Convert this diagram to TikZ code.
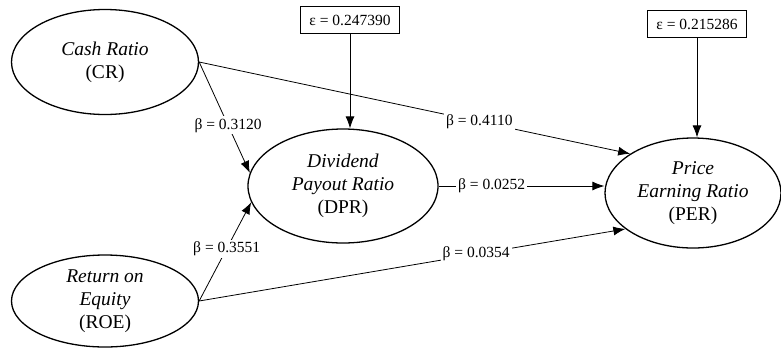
\documentclass[tikz,border=0pt]{standalone}
\usepackage{fontspec}
\setmainfont{Liberation Serif}
\usetikzlibrary{shapes.geometric,arrows.meta}
\begin{document}
\begin{tikzpicture}[x=1pt,y=-1pt,
  latent/.style={ellipse,draw,line width=1.3pt,inner sep=0pt,align=center,
    font=\fontsize{19.5}{23}\selectfont},
  errbox/.style={draw,line width=0.9pt,minimum width=99pt,minimum height=27pt,inner sep=0pt,
    font=\fontsize{15.5}{18}\selectfont},
  path/.style={line width=0.8pt,-{Latex[length=12pt,width=9pt]}},
  coef/.style={fill=white,inner sep=2pt,font=\fontsize{15.5}{18}\selectfont}]
\useasboundingbox (0,0) rectangle (781,349);
\node[latent,minimum width=187pt,minimum height=105pt] (CR) at (105,62) {\textit{Cash Ratio}\\(CR)};
\node[latent,minimum width=187pt,minimum height=92pt] (ROE) at (105,301) {\textit{Return on}\\\textit{Equity}\\(ROE)};
\node[latent,minimum width=190pt,minimum height=114pt] (DPR) at (343,186) {\textit{Dividend}\\\textit{Payout Ratio}\\(DPR)};
\node[latent,minimum width=176pt,minimum height=110pt] (PER) at (693,193) {\textit{Price}\\\textit{Earning Ratio}\\(PER)};
\node[errbox] (e1) at (350,20) {ε = 0.247390};
\node[errbox] (e2) at (697,24) {ε = 0.215286};
\draw[path] (e1.south) -- (e1.south |- DPR.north);
\draw[path] (e2.south) -- (e2.south |- PER.north);
\draw[path] (CR.east) -- node[coef,pos=0.57] {β = 0.3120} (DPR.172);
\draw[path] (ROE.east) -- node[coef,pos=0.53] {β = 0.3551} (DPR.190);
\draw[path] (CR.east) -- node[coef,pos=0.65] {β = 0.4110} (PER.148);
\draw[path] (ROE.east) -- node[coef,pos=0.65] {β = 0.0354} (PER.208);
\draw[path] (DPR.east) -- node[coef,pos=0.32] {β = 0.0252} (PER.west |- DPR.east);
\end{tikzpicture}
\end{document}
